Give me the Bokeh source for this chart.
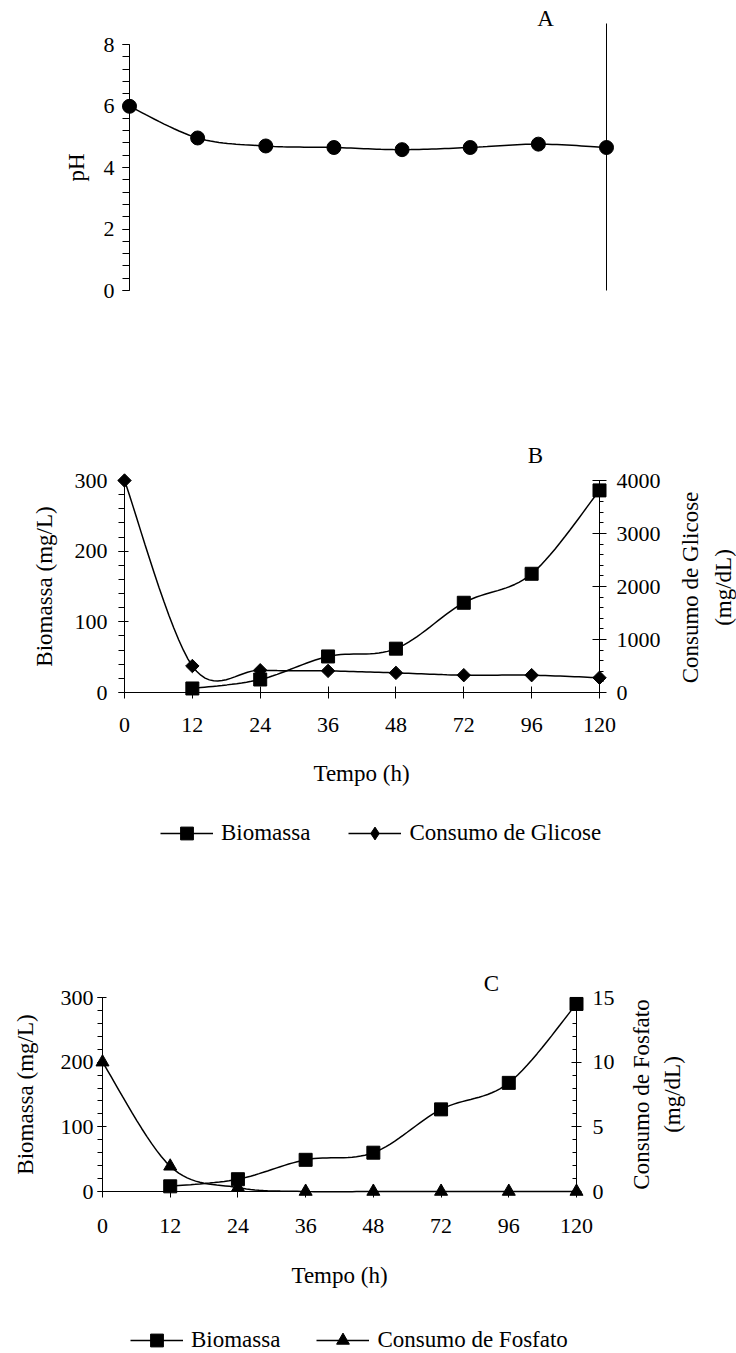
import numpy as np
from bokeh.plotting import figure
from bokeh.models import (Range1d, LinearAxis, FixedTicker, SingleIntervalTicker,
                          Label, Legend, LegendItem, ColumnDataSource)
from bokeh.layouts import column
from bokeh.embed import file_html
from bokeh.resources import INLINE

# ---------------- data ----------------
tempo = ["0", "12", "24", "36", "48", "72", "96", "120"]
ph = [5.99, 4.96, 4.70, 4.65, 4.58, 4.65, 4.76, 4.65]
biomassa_b = [None, 5.7, 18.4, 51, 62, 127, 168, 286]
glicose_b = [4000, 500, 420, 408, 370, 327, 327, 278]
biomassa_c = [None, 8, 19, 49, 60, 127, 168, 290]
fosfato_c = [10, 1.95, 0.3, 0, 0, 0, 0, 0]

FONT = "Liberation Serif"
W = 736
NCAT = len(tempo)


def valid(vals):
    idx = [i for i, v in enumerate(vals) if v is not None]
    return idx, [float(vals[i]) for i in idx]


def smooth(xs, ys, n=16):
    """Excel-like smoothed line through the points (cubic Bezier, Catmull-Rom tangents)."""
    P = np.column_stack([np.asarray(xs, float), np.asarray(ys, float)])
    out = [P[0]]
    t = np.linspace(0, 1, n + 1)[1:, None]
    for i in range(len(P) - 1):
        p0 = P[i - 1] if i > 0 else P[i]
        p1, p2 = P[i], P[i + 1]
        p3 = P[i + 2] if i + 2 < len(P) else P[i + 1]
        c1 = p1 + (p2 - p0) / 6.0
        c2 = p2 - (p3 - p1) / 6.0
        seg = (1 - t) ** 3 * p1 + 3 * (1 - t) ** 2 * t * c1 + 3 * (1 - t) * t ** 2 * c2 + t ** 3 * p2
        out.extend(seg)
    out = np.array(out)
    return out[:, 0], out[:, 1]


def make_fig(h, x0px, xnpx, y0px, ytpx, ytop):
    """Frame covers the whole canvas; axes are placed at fixed data locations."""
    u = (xnpx - x0px) / (NCAT - 1)
    v = (y0px - ytpx) / ytop
    xr = Range1d((0 - x0px) / u, (W - x0px) / u)
    yr = Range1d(-(h - y0px) / v, (y0px - 0) / v)
    p = figure(width=W, height=h, x_range=xr, y_range=yr, output_backend="svg",
               toolbar_location=None, x_axis_location=None, y_axis_location=None,
               min_border_left=0, min_border_right=0, min_border_top=0, min_border_bottom=0,
               outline_line_color=None)
    p.grid.visible = False
    p.background_fill_color = "white"
    p.border_fill_color = "white"
    px2x = lambda px: (px - x0px) / u
    px2y = lambda py: (y0px - py) / v
    return p, px2x, px2y


def style_axis(ax, tin, tout, mtin, mtout, standoff):
    ax.axis_line_color = "black"
    ax.axis_line_width = 1
    ax.major_tick_in = tin
    ax.major_tick_out = tout
    ax.minor_tick_in = mtin
    ax.minor_tick_out = mtout
    ax.major_tick_line_color = "black"
    ax.minor_tick_line_color = "black"
    ax.major_label_text_font = FONT
    ax.major_label_text_font_size = "22px"
    ax.major_label_text_color = "black"
    ax.major_label_standoff = standoff


def add_text(p, x, y, text, angle=0.0):
    p.add_layout(Label(x=x, y=y, text=text, angle=angle, text_font=FONT,
                       text_font_size="23px", text_align="center",
                       text_baseline="middle", text_color="black"))


def x_axis(p, standoff):
    ax = LinearAxis(fixed_location=0, bounds=(0, NCAT - 1),
                    ticker=FixedTicker(ticks=list(range(NCAT))),
                    major_label_overrides={i: t for i, t in enumerate(tempo)})
    style_axis(ax, 6, 6, 0, 0, standoff)
    p.add_layout(ax, "below")
    return ax


LW = 1.5
GH = 32

# ---------------- Panel A : pH ----------------
HA = 340
pA, ax2x, ax2y = make_fig(HA, 129, 606, 290, 44, 8)
axA = LinearAxis(fixed_location=0, bounds=(0, 8),
                 ticker=SingleIntervalTicker(interval=2, num_minor_ticks=5))
style_axis(axA, 0, 7, 0, 7, 8)
pA.add_layout(axA, "left")
axA2 = LinearAxis(fixed_location=NCAT - 1, bounds=(0, ax2y(23)),
                  ticker=FixedTicker(ticks=[]))
style_axis(axA2, 0, 0, 0, 0, 0)
pA.add_layout(axA2, "right")
ix, vals = valid(ph)
sx, sy = smooth(ix, vals)
pA.line(sx, sy, line_width=LW, color="black")
pA.scatter(ix, vals, marker="circle", size=14, color="black")
add_text(pA, ax2x(545), ax2y(18), "A")
add_text(pA, ax2x(76), ax2y(167), "pH", angle=np.pi / 2)

# ---------------- Panel B : biomassa / glicose ----------------
offB = 340
HB = 540
pB, bx, by = make_fig(HB, 124, 599, 692 - offB, 480 - offB, 300)
ratioB = 4000 / 300
pB.extra_y_ranges = {"glic": Range1d(pB.y_range.start * ratioB, pB.y_range.end * ratioB)}
axBL = LinearAxis(fixed_location=0, bounds=(0, 300),
                  ticker=SingleIntervalTicker(interval=100, num_minor_ticks=5))
style_axis(axBL, 4, 6, 0, 6, 11)
pB.add_layout(axBL, "left")
axBR = LinearAxis(y_range_name="glic", fixed_location=NCAT - 1, bounds=(0, 4000),
                  ticker=SingleIntervalTicker(interval=1000, num_minor_ticks=5))
style_axis(axBR, 7, 7, 0, 4, 10)
pB.add_layout(axBR, "right")
x_axis(pB, 19)

ix, vals = valid(biomassa_b)
sx, sy = smooth(ix, vals)
lb1 = pB.line(sx, sy, line_width=LW, color="black")
sb1 = pB.scatter(ix, vals, marker="square", size=13, color="black")
ix, vals = valid(glicose_b)
sx, sy = smooth(ix, vals)
lb2 = pB.line(sx, sy, line_width=LW, color="black", y_range_name="glic")
pB.scatter(ix, vals, marker="square", angle=np.pi / 4, size=9.5, color="black", y_range_name="glic")
# legend-only diamond symbol (no visible point in the plot)
dleg = pB.scatter(marker="diamond", size=12, color="black",
                  source=ColumnDataSource(dict(x=[np.nan], y=[np.nan])))

add_text(pB, bx(535), by(455 - offB), "B")
add_text(pB, bx(44), by(586 - offB), "Biomassa (mg/L)", angle=np.pi / 2)
add_text(pB, bx(690), by(587 - offB), "Consumo de Glicose", angle=np.pi / 2)
add_text(pB, bx(723), by(587 - offB), "(mg/dL)", angle=np.pi / 2)
add_text(pB, bx(361), by(773 - offB), "Tempo (h)")

legB = Legend(items=[LegendItem(label="Biomassa", renderers=[lb1, sb1]),
                     LegendItem(label="Consumo de Glicose", renderers=[lb2, dleg])],
              orientation="horizontal", location=(160, HB - (833 - offB + GH / 2)),
              glyph_width=53, glyph_height=GH, label_standoff=8, spacing=38,
              padding=0, margin=0, border_line_color=None, background_fill_alpha=0,
              label_text_font=FONT, label_text_font_size="23px", label_text_color="black")
pB.add_layout(legB)

# ---------------- Panel C : biomassa / fosfato ----------------
offC = 880
HC = 473
pC, cx, cy = make_fig(HC, 102, 576, 1191 - offC, 997 - offC, 300)
ratioC = 15 / 300
pC.extra_y_ranges = {"fosf": Range1d(pC.y_range.start * ratioC, pC.y_range.end * ratioC)}
axCL = LinearAxis(fixed_location=0, bounds=(0, 300),
                  ticker=SingleIntervalTicker(interval=100, num_minor_ticks=5))
style_axis(axCL, 4, 5, 0, 5, 4)
pC.add_layout(axCL, "left")
axCR = LinearAxis(y_range_name="fosf", fixed_location=NCAT - 1, bounds=(0, 15),
                  ticker=SingleIntervalTicker(interval=5, num_minor_ticks=5))
style_axis(axCR, 5, 5, 4, 0, 11)
pC.add_layout(axCR, "right")
x_axis(pC, 21)

ix, vals = valid(biomassa_c)
sx, sy = smooth(ix, vals)
lc1 = pC.line(sx, sy, line_width=LW, color="black")
sc1 = pC.scatter(ix, vals, marker="square", size=13, color="black")
ix, vals = valid(fosfato_c)
sx, sy = smooth(ix, vals)
lc2 = pC.line(sx, sy, line_width=LW, color="black", y_range_name="fosf")
sc2 = pC.scatter(ix, vals, marker="triangle", size=13, color="black", y_range_name="fosf")

add_text(pC, cx(491), cy(983 - offC), "C")
add_text(pC, cx(25), cy(1094 - offC), "Biomassa (mg/L)", angle=np.pi / 2)
add_text(pC, cx(641), cy(1094 - offC), "Consumo de Fosfato", angle=np.pi / 2)
add_text(pC, cx(672), cy(1094 - offC), "(mg/dL)", angle=np.pi / 2)
add_text(pC, cx(339), cy(1275 - offC), "Tempo (h)")

legC = Legend(items=[LegendItem(label="Biomassa", renderers=[lc1, sc1]),
                     LegendItem(label="Consumo de Fosfato", renderers=[lc2, sc2])],
              orientation="horizontal", location=(130, HC - (1340 - offC + GH / 2)),
              glyph_width=53, glyph_height=GH, label_standoff=8, spacing=36,
              padding=0, margin=0, border_line_color=None, background_fill_alpha=0,
              label_text_font=FONT, label_text_font_size="23px", label_text_color="black")
pC.add_layout(legC)

layout = column(pA, pB, pC, spacing=0)
open("out.html", "w").write(file_html(layout, INLINE))
